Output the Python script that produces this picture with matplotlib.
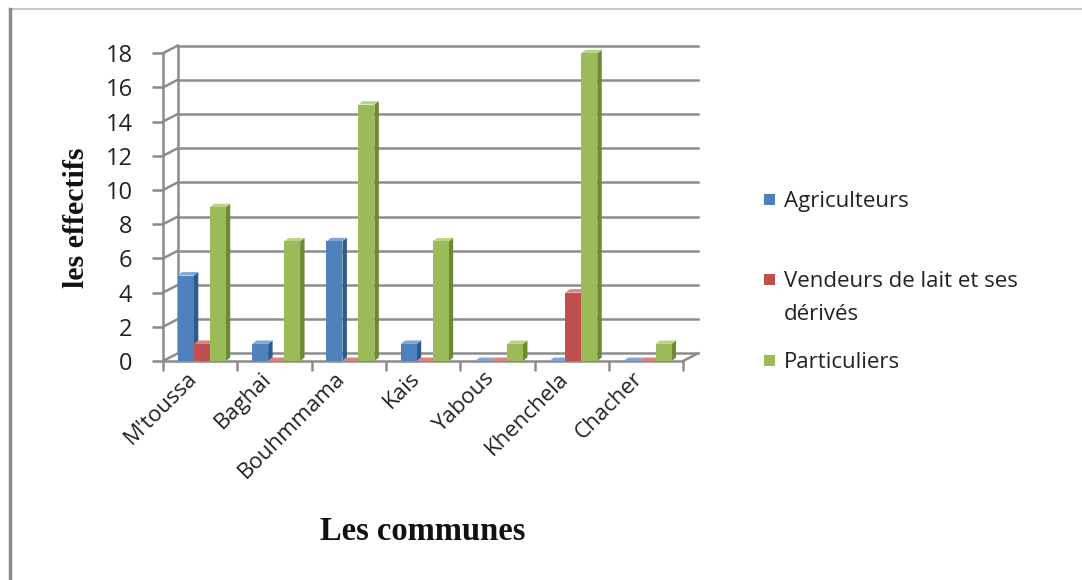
"""Effectifs par commune, bar chart with a 3D-like Excel look."""

import matplotlib.pyplot as plt
from matplotlib.patches import Polygon, Rectangle
from matplotlib.lines import Line2D
from matplotlib.transforms import ScaledTranslation

communes = ["M'toussa", "Baghai", "Bouhmmama", "Kais", "Yabous", "Khenchela", "Chacher"]
agriculteurs = [5, 1, 7, 1, 0, 0, 0]
vendeurs = [1, 0, 0, 0, 0, 4, 0]
particuliers = [9, 7, 15, 7, 1, 18, 1]
series_names = ["Agriculteurs", "Vendeurs de lait et ses\ndérivés", "Particuliers"]
y_ticks = list(range(0, 19, 2))

# front, side, top colours
colors = [
    ("#4F81BD", "#2F5A8F", "#7FA6D6"),
    ("#C0504D", "#8C3230", "#D98280"),
    ("#9BBB59", "#6B8A33", "#BBD48A"),
]
grid_col = "#8c8c8c"

DX, DY = 0.2, 0.45        # depth of the back wall (data units)
BX, BY = 0.06, 0.2        # depth of a bar
BW = 0.215                # bar width
B0 = 0.2                  # offset of first bar inside a category

fig = plt.figure(figsize=(10.82, 5.8), dpi=100)
ax = fig.add_axes([163 / 1082, (580 - 361) / 580, 547 / 1082, 316 / 580])
ax.set_xlim(0, 547 / 74.3)
ax.set_ylim(0, 316 / 17.1)
ax.patch.set_visible(False)

# back wall grid + slanted connectors
n = len(communes)
for v in y_ticks:
    ax.plot([DX, n + DX], [v + DY, v + DY], color=grid_col, lw=1.8, clip_on=False, zorder=1)
    ax.plot([0, DX], [v, v + DY], color=grid_col, lw=1.8, clip_on=False, zorder=1)
ax.plot([DX, DX], [DY, y_ticks[-1] + DY], color=grid_col, lw=1.8, clip_on=False, zorder=1)
ax.plot([n, n + DX], [0, DY], color=grid_col, lw=1.8, clip_on=False, zorder=1)

# bars
for s, vals in enumerate([agriculteurs, vendeurs, particuliers]):
    front, side, top = colors[s]
    for i, v in enumerate(vals):
        x = i + B0 + s * BW
        ax.add_patch(Polygon([(x + BW, 0), (x + BW + BX, BY), (x + BW + BX, v + BY), (x + BW, v)],
                             closed=True, fc=side, ec="none", zorder=3 + s))
        ax.add_patch(Polygon([(x, v), (x + BX, v + BY), (x + BW + BX, v + BY), (x + BW, v)],
                             closed=True, fc=top, ec="none", zorder=3 + s))
        ax.add_patch(Rectangle((x, 0), BW, v, fc=front, ec="none", zorder=3 + s))

# axes
for side in ["top", "right"]:
    ax.spines[side].set_visible(False)
for side in ["left", "bottom"]:
    ax.spines[side].set_color(grid_col)
    ax.spines[side].set_linewidth(1.8)
ax.spines["left"].set_bounds(0, y_ticks[-1])
ax.spines["bottom"].set_bounds(0, n)

ax.set_yticks(y_ticks)
ax.tick_params(axis="y", length=8, width=1.8, color=grid_col, labelsize=17,
               labelcolor="#222222", pad=14)
ax.set_xticks([i + 0.5 for i in range(n)])
ax.set_xticklabels(communes, rotation=45, ha="right", rotation_mode="anchor",
                   fontsize=16, color="#222222")
ax.tick_params(axis="x", length=0, pad=5)
ax.set_xticks(list(range(n + 1)), minor=True)
ax.tick_params(axis="x", which="minor", length=7, width=1.8, color=grid_col)
shift = ScaledTranslation(-14 / 100, 0, fig.dpi_scale_trans)
for lab in ax.get_xticklabels():
    lab.set_family("Open Sans")
    lab.set_transform(lab.get_transform() + shift)
for lab in ax.get_yticklabels():
    lab.set_family("Open Sans")

fig.text(76 / 1082, 1 - 218 / 580, "les effectifs", rotation=90, ha="center", va="center",
         family="Liberation Serif", weight="bold", fontsize=21.5, color="#111111")
fig.text(423 / 1082, 1 - 532 / 580, "Les communes", ha="center", va="center",
         family="Liberation Serif", weight="bold", fontsize=23.5, color="#111111")

# legend
leg_y = [200, 280, 361]
for (front, side, top), name, yy in zip(colors, series_names, leg_y):
    fig.add_artist(Rectangle((764 / 1082, 1 - (yy + 5) / 580), 11 / 1082, 11 / 580,
                             transform=fig.transFigure, fc=front, ec="none"))
    for k, line in enumerate(name.split("\n")):
        fig.text(784 / 1082, 1 - (yy + 7 + 33 * k) / 580, line, ha="left", va="baseline",
                 family="Open Sans", fontsize=16, color="#222222")

# outer frame
fig.add_artist(Line2D([10 / 1082, 1], [1 - 9 / 580, 1 - 9 / 580], transform=fig.transFigure,
                      color="#c8c8c8", lw=1.5))
fig.add_artist(Line2D([10 / 1082, 10 / 1082], [0, 1 - 9 / 580], transform=fig.transFigure,
                      color="#8a8a8a", lw=2.5))

fig.savefig("out.png", dpi=100)
